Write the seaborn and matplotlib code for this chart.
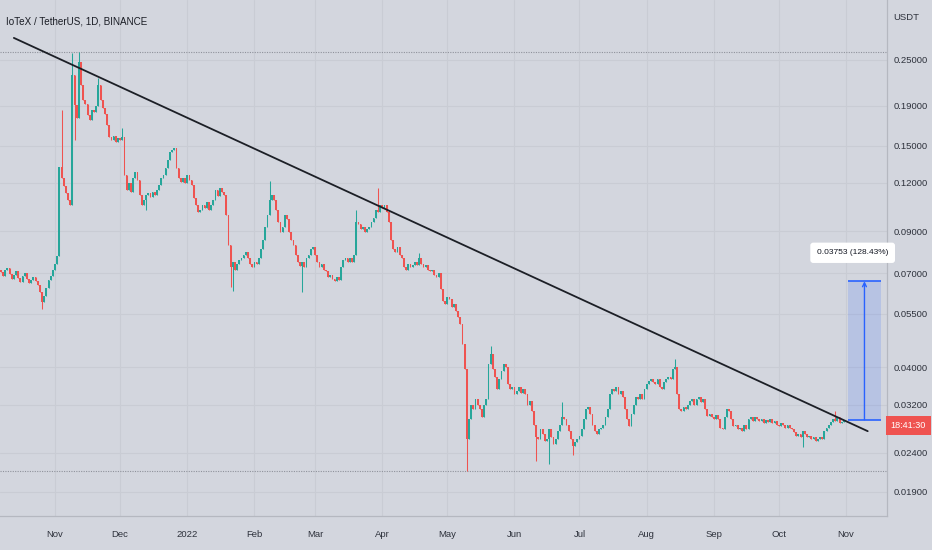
import numpy as np
import pandas as pd
import matplotlib
matplotlib.use("Agg")
import matplotlib.pyplot as plt
import matplotlib.dates as mdates
import matplotlib.transforms as mtrans
import seaborn as sns
from matplotlib.patches import Rectangle

# ==========================
# Data
# ==========================

title = "IoTeX / TetherUS, 1D, BINANCE"
currency = "USDT"
countdown = "18:41:30"
start_date = "2021-10-07"
first_open = 0.0712

closes = [
    0.0707, 0.0690, 0.0715, 0.0724, 0.0698, 0.0677, 0.0694, 0.0711, 0.0681, 0.0665,
    0.0690, 0.0702, 0.0677, 0.0661, 0.0673, 0.0685, 0.0669, 0.0653, 0.0627, 0.0591,
    0.0613, 0.0642, 0.0673, 0.0690, 0.0715, 0.0741, 0.0777, 0.1316, 0.1235, 0.1178,
    0.1130, 0.1087, 0.1052, 0.2286, 0.1912, 0.1770, 0.2470, 0.2154, 0.1970, 0.1924,
    0.1802, 0.1749, 0.1856, 0.1834, 0.1900, 0.2154, 0.1970, 0.1878, 0.1812, 0.1698,
    0.1582, 0.1553, 0.1591, 0.1535, 0.1572, 0.1553, 0.1582, 0.1261, 0.1153, 0.1202,
    0.1139, 0.1239, 0.1284, 0.1224, 0.1119, 0.1055, 0.1087, 0.1119, 0.1132, 0.1106,
    0.1139, 0.1119, 0.1153, 0.1187, 0.1239, 0.1261, 0.1315, 0.1379, 0.1446, 0.1463,
    0.1481, 0.1315, 0.1239, 0.1210, 0.1239, 0.1202, 0.1261, 0.1224, 0.1187, 0.1100,
    0.1055, 0.1012, 0.1024, 0.1055, 0.1036, 0.1068, 0.1024, 0.1049, 0.1087, 0.1153,
    0.1113, 0.1167, 0.1139, 0.1119, 0.0994, 0.0831, 0.0725, 0.0751, 0.0716, 0.0738,
    0.0760, 0.0769, 0.0783, 0.0797, 0.0769, 0.0738, 0.0725, 0.0747, 0.0738, 0.0769,
    0.0807, 0.0856, 0.0920, 0.0994, 0.1087, 0.1119, 0.1087, 0.1024, 0.0953, 0.0893,
    0.0920, 0.0994, 0.0965, 0.0898, 0.0856, 0.0831, 0.0783, 0.0751, 0.0729, 0.0751,
    0.0725, 0.0769, 0.0783, 0.0807, 0.0817, 0.0783, 0.0751, 0.0725, 0.0742, 0.0716,
    0.0708, 0.0683, 0.0695, 0.0675, 0.0667, 0.0683, 0.0671, 0.0725, 0.0760, 0.0769,
    0.0751, 0.0769, 0.0751, 0.0783, 0.0953, 0.0937, 0.0909, 0.0920, 0.0893, 0.0909,
    0.0920, 0.0953, 0.0976, 0.1024, 0.1012, 0.1055, 0.1036, 0.1049, 0.1012, 0.0953,
    0.0856, 0.0807, 0.0797, 0.0817, 0.0783, 0.0769, 0.0725, 0.0716, 0.0738, 0.0725,
    0.0734, 0.0751, 0.0734, 0.0769, 0.0742, 0.0725, 0.0734, 0.0716, 0.0708, 0.0716,
    0.0695, 0.0683, 0.0700, 0.0636, 0.0592, 0.0582, 0.0606, 0.0599, 0.0571, 0.0582,
    0.0558, 0.0539, 0.0516, 0.0458, 0.0395, 0.0260, 0.0293, 0.0320, 0.0311, 0.0330,
    0.0320, 0.0311, 0.0297, 0.0320, 0.0330, 0.0407, 0.0432, 0.0395, 0.0377, 0.0351,
    0.0372, 0.0390, 0.0407, 0.0400, 0.0361, 0.0351, 0.0355, 0.0341, 0.0347, 0.0355,
    0.0343, 0.0351, 0.0341, 0.0320, 0.0326, 0.0307, 0.0284, 0.0263, 0.0260, 0.0276,
    0.0268, 0.0257, 0.0260, 0.0276, 0.0263, 0.0253, 0.0260, 0.0273, 0.0284, 0.0297,
    0.0293, 0.0284, 0.0273, 0.0260, 0.0250, 0.0256, 0.0260, 0.0266, 0.0276, 0.0293,
    0.0311, 0.0315, 0.0302, 0.0284, 0.0273, 0.0268, 0.0276, 0.0279, 0.0284, 0.0297,
    0.0311, 0.0341, 0.0351, 0.0347, 0.0355, 0.0341, 0.0347, 0.0334, 0.0311, 0.0293,
    0.0281, 0.0302, 0.0320, 0.0334, 0.0330, 0.0341, 0.0330, 0.0351, 0.0361, 0.0368,
    0.0372, 0.0366, 0.0361, 0.0372, 0.0355, 0.0351, 0.0366, 0.0372, 0.0377, 0.0372,
    0.0395, 0.0400, 0.0341, 0.0311, 0.0307, 0.0315, 0.0311, 0.0320, 0.0326, 0.0330,
    0.0320, 0.0330, 0.0334, 0.0324, 0.0330, 0.0311, 0.0298, 0.0302, 0.0297, 0.0293,
    0.0300, 0.0293, 0.0279, 0.0276, 0.0297, 0.0311, 0.0307, 0.0293, 0.0281, 0.0284,
    0.0276, 0.0279, 0.0273, 0.0283, 0.0276, 0.0293, 0.0297, 0.0290, 0.0297, 0.0293,
    0.0290, 0.0293, 0.0286, 0.0291, 0.0288, 0.0293, 0.0286, 0.0290, 0.0284, 0.0281,
    0.0286, 0.0283, 0.0279, 0.0284, 0.0279, 0.0276, 0.0271, 0.0265, 0.0268, 0.0263,
    0.0273, 0.0268, 0.0263, 0.0266, 0.0260, 0.0263, 0.0257, 0.0260, 0.0263, 0.0260,
    0.0273, 0.0279, 0.0284, 0.0288, 0.0293, 0.0290, 0.0297, 0.0286, 0.0288, 0.0292,
]

# candles with a clearly visible wick (day index -> price)
wick_highs = {28: 0.1856, 33: 0.2600, 36: 0.2620, 45: 0.2240, 56: 0.1665,
              124: 0.1216, 164: 0.1024, 174: 0.1165, 193: 0.0790, 226: 0.0455,
              259: 0.0325, 311: 0.0419, 385: 0.0307}
wick_lows = {19: 0.0565, 34: 0.1550, 67: 0.1020, 106: 0.0645, 107: 0.0630,
             139: 0.0625, 215: 0.0215, 247: 0.0228, 253: 0.0225, 264: 0.0237,
             370: 0.0248}

# trend line drawn on the chart
trend_dates = ["2021-10-13", "2022-11-11"]
trend_prices = [0.285, 0.0273]

# price range measurement
measure_base = 0.02922
measure_change = 0.03753
measure_pct = 128.43
measure_start = "2022-11-02"
measure_end = "2022-11-17"

y_ticks = [0.019, 0.024, 0.032, 0.040, 0.055, 0.070, 0.090, 0.120, 0.150, 0.190, 0.250]
month_labels = ["Nov", "Dec", "2022", "Feb", "Mar", "Apr", "May",
                "Jun", "Jul", "Aug", "Sep", "Oct", "Nov"]

# ==========================
# Build OHLC table
# ==========================

opens = [first_open] + closes[:-1]
df = pd.DataFrame({
    "date": pd.date_range(start_date, periods=len(closes), freq="D"),
    "open": opens,
    "close": closes,
})
df["high"] = [wick_highs.get(i, max(o, c)) for i, (o, c) in enumerate(zip(opens, closes))]
df["low"] = [wick_lows.get(i, min(o, c)) for i, (o, c) in enumerate(zip(opens, closes))]
df["up"] = df["close"] >= df["open"]

# ==========================
# Style
# ==========================

BG = "#d3d6de"
GRID = "#c9ccd4"
GREEN = "#26a69a"
RED = "#ef5350"
BLUE = "#2962ff"
TEXT = "#2e323c"

sns.set_theme(style="white", rc={"axes.facecolor": BG, "figure.facecolor": BG})
plt.rcParams["font.family"] = ["Liberation Sans", "DejaVu Sans"]

fig = plt.figure(figsize=(9.32, 5.5), dpi=100)
ax = fig.add_axes([0, 0.062, 887 / 932, 0.938])

ax.set_yscale("log")
nov1 = mdates.date2num(pd.Timestamp("2021-11-01"))
ax.set_xlim(nov1 - 25.4, nov1 + 383.9)
ax.set_ylim(0.01647, 0.3573)

# grid
month_ticks = pd.date_range("2021-11-01", "2022-11-01", freq="MS")
for m in month_ticks:
    ax.axvline(mdates.date2num(m), color=GRID, lw=0.8, zorder=0)
for v in y_ticks:
    ax.axhline(v, color=GRID, lw=0.8, zorder=0)

# high / low of the visible range
for v in [df["high"].max(), df["low"].min()]:
    ax.axhline(v, color="#8f929b", lw=0.8, ls=(0, (1, 1.2)), zorder=1)

# ==========================
# Candles
# ==========================

x = mdates.date2num(df["date"])
colors = np.where(df["up"], GREEN, RED)
ax.vlines(x, df["low"], df["high"], colors=colors, lw=0.75, zorder=2)
body_low = np.minimum(df["open"], df["close"])
body_h = np.maximum((df["close"] - df["open"]).abs(), body_low * 0.008)
ax.bar(x, body_h, bottom=body_low, width=0.82, color=colors, lw=0, zorder=3)

# trend line
trend = pd.DataFrame({"date": pd.to_datetime(trend_dates), "price": trend_prices})
sns.lineplot(data=trend, x="date", y="price", color="#1c1f26", lw=1.3, ax=ax, zorder=4)

# ==========================
# Measurement tool
# ==========================

m0 = mdates.date2num(pd.Timestamp(measure_start))
m1 = mdates.date2num(pd.Timestamp(measure_end))
mtop = measure_base + measure_change
ax.add_patch(Rectangle((m0, measure_base), m1 - m0, measure_change,
                       fc=BLUE, alpha=0.16, lw=0, zorder=2))
ax.hlines([measure_base, mtop], m0, m1, colors=BLUE, lw=1.2, zorder=5)
mid = (m0 + m1) / 2
ax.annotate("", xy=(mid, mtop), xytext=(mid, measure_base),
            arrowprops=dict(arrowstyle="->", color=BLUE, lw=1.0,
                            shrinkA=0, shrinkB=0, mutation_scale=7), zorder=5)
ax.annotate(f"{measure_change:.5f} ({measure_pct:.2f}%)", xy=(mid, mtop),
            xytext=(-8.5, 20.5), textcoords="offset points",
            ha="center", va="center", fontsize=6.0, color="#131722",
            bbox=dict(boxstyle="round,pad=0.8,rounding_size=0.35", fc="white", ec="none"),
            annotation_clip=False, zorder=6)

# ==========================
# Axes, ticks, labels
# ==========================

ax.yaxis.tick_right()
ax.set_yticks(y_ticks)
ax.set_yticklabels([f"{v:.5f}" for v in y_ticks])
ax.yaxis.set_minor_locator(matplotlib.ticker.NullLocator())
ax.set_xticks(mdates.date2num(month_ticks))
ax.set_xticklabels(month_labels)
ax.tick_params(axis="both", length=0, labelsize=6.8, labelcolor=TEXT)
ax.tick_params(axis="y", pad=4.5)
ax.tick_params(axis="x", pad=10.5)
ax.set_xlabel("")
ax.set_ylabel("")

for side in ["top", "left"]:
    ax.spines[side].set_visible(False)
for side in ["right", "bottom"]:
    ax.spines[side].set_color("#b5b8c0")
    ax.spines[side].set_linewidth(0.9)

fig.text(6 / 932, 1 - 21 / 550, title, fontsize=7.1, color="#1a1d25", va="center", ha="left")
fig.text(893 / 932, 1 - 17 / 550, currency, fontsize=6.8, color=TEXT, va="center", ha="left")

# countdown label on the price scale
blend = mtrans.blended_transform_factory(ax.transAxes, ax.transData)
ax.annotate(countdown, xy=(1.0, closes[-1]), xycoords=blend,
            xytext=(15.5, -4), textcoords="offset points",
            ha="center", va="center", fontsize=6.6, color="white",
            bbox=dict(boxstyle="square,pad=0.55", fc=RED, ec="none"),
            annotation_clip=False, zorder=7)

plt.savefig("out.png", dpi=100, facecolor=BG)
